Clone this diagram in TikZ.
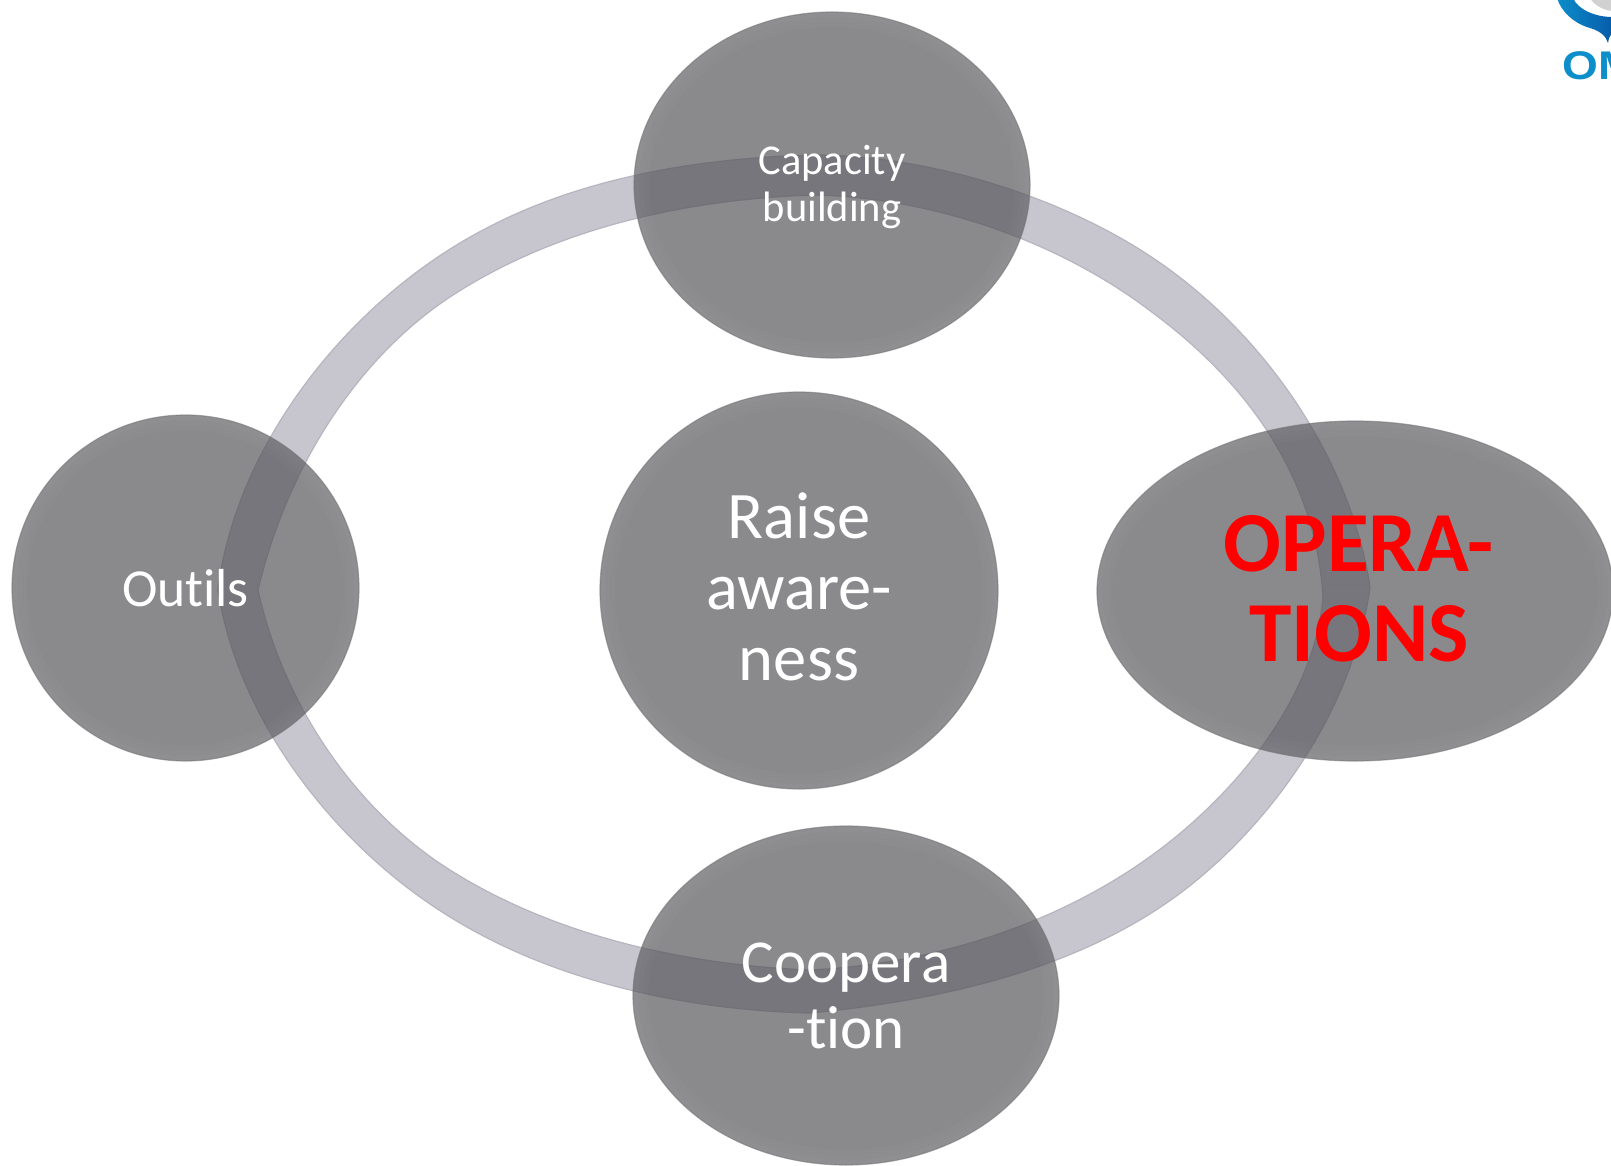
\documentclass[tikz,border=0pt]{standalone}
\usepackage{fontspec}
\setmainfont{Carlito}
\newfontfamily\logofont{Liberation Sans}
\usetikzlibrary{shapes.geometric}
\definecolor{ringfill}{RGB}{199,198,206}
\definecolor{ringedge}{RGB}{182,181,192}
\definecolor{blobfill}{RGB}{80,80,84}
\definecolor{blobedge}{RGB}{110,110,112}
\definecolor{logoblue}{RGB}{11,142,201}
\definecolor{logodark}{RGB}{8,92,170}
\newcommand{\nl}{\kern0pt }
\tikzset{
  blob/.style 2 args={ellipse,inner sep=0pt,minimum width=#1pt,minimum height=#2pt,
    fill=blobfill,fill opacity=.67,text opacity=1,draw=blobedge,draw opacity=.55,line width=1.2pt,
    text=white,align=center},
  glow/.style={draw=white,draw opacity=.02,line width=#1pt},
  ring/.style={fill=ringfill,draw=ringedge,line width=1.2pt,even odd rule},
  seam/.style={draw=ringedge,draw opacity=.3,line width=1pt}
}
\newcommand{\softrim}[3]{%
  \draw[glow=5] (#1.center) ellipse [x radius=#2-2.5,y radius=#3-2.5];
  \draw[glow=10] (#1.center) ellipse [x radius=#2-5,y radius=#3-5];
  \draw[glow=15] (#1.center) ellipse [x radius=#2-7.5,y radius=#3-7.5];
}
\begin{document}
\begin{tikzpicture}[x=1pt,y=-1pt]
\useasboundingbox (0,0) rectangle (1611,1166);
% logo
\shade[left color=logoblue,right color=logodark]
  (1557,-2) .. controls (1561,12) and (1575,24) .. (1590,28)
  .. controls (1600,31) and (1606,36) .. (1608,43)
  .. controls (1608,40) and (1609,37) .. (1612,34) -- (1612,17)
  .. controls (1596,17) and (1578,10) .. (1573,-2) -- cycle;
\fill[black!18] (1590,-2) .. controls (1593,4) and (1602,10) .. (1612,11) -- (1612,-2) -- cycle;
\node[anchor=base west,inner sep=0pt,text=logoblue] (logotext) at (1562,80)
  {\scalebox{1.15}[1]{\logofont\bfseries\fontsize{40}{40}\selectfont OM}};
% ring
\path[ring]
  (813,155) .. controls (926,155) and (1059,195) .. (1153,258)
  .. controls (1262,331) and (1350,456) .. (1370,587)
  .. controls (1355,699) and (1284,808) .. (1197,880)
  .. controls (1092,967) and (946,1000) .. (810,1013)
  .. controls (686,1010) and (555,982) .. (450,917)
  .. controls (336,847) and (238,721) .. (218,590)
  .. controls (236,443) and (350,300) .. (483,230)
  .. controls (582,177) and (700,158) .. (813,155) -- cycle
  (813,195) .. controls (930,197) and (1058,240) .. (1153,313)
  .. controls (1250,385) and (1316,480) .. (1323,597)
  .. controls (1315,695) and (1241,787) .. (1163,847)
  .. controls (1064,923) and (935,964) .. (810,970)
  .. controls (685,965) and (555,936) .. (450,870)
  .. controls (352,808) and (282,700) .. (258,590)
  .. controls (285,475) and (352,362) .. (450,297)
  .. controls (555,228) and (687,199) .. (813,195) -- cycle;
% ring seams
\draw[seam] (812,178) -- (813,195);
\draw[seam] (808,969) -- (811,1012);
\draw[seam] (1328,585) -- (1370,585);
\draw[seam] (220,574) -- (255,574) -- (258,590);
% blobs
\node[blob={396}{346},font=\fontsize{42.5}{46.5}\selectfont] (capacity) at (832,185) {\rule{0pt}{33pt}Capacit\nl y\\building};
\node[blob={398}{397},font=\fontsize{66.5}{71}\selectfont] (raise) at (799,590.5) {Raise\\aware-\\ness\rule[-7pt]{0pt}{0pt}};
\node[blob={347}{346},font=\fontsize{53.5}{57}\selectfont] (outils) at (185.5,588) {Out\nl ils};
\node[blob={516}{340},text=red,font=\fontsize{85.5}{90}\selectfont\bfseries] (operations) at (1355,591) {\hspace*{8pt}OPERA-\\\hspace*{8pt}TIONS\rule[-5pt]{0pt}{0pt}};
\node[blob={426}{339},font=\fontsize{61}{66}\selectfont] (cooperation) at (846,995.5) {Coopera\\-t\nl ion};
% soft inner rim
\softrim{capacity}{198}{173}
\softrim{raise}{199}{198.5}
\softrim{outils}{173.5}{173}
\softrim{operations}{258}{170}
\softrim{cooperation}{213}{169.5}
\end{tikzpicture}
\end{document}
